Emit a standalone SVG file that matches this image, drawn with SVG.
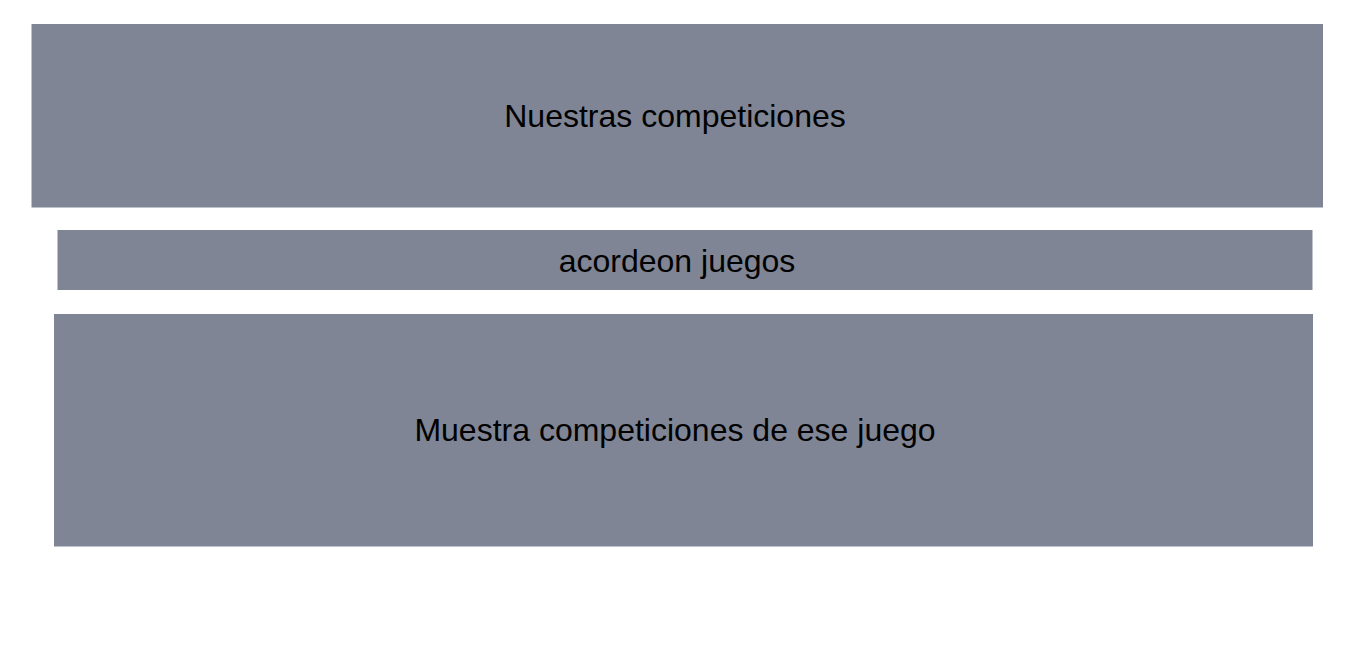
<svg xmlns="http://www.w3.org/2000/svg" width="1350" height="650" viewBox="0 0 1350 650">
<style>
.box{fill:#7f8595;stroke:none}
.lbl{font-family:"Liberation Sans",Arial,sans-serif;font-size:32px;fill:#000;text-anchor:middle;dominant-baseline:central}
</style>
<rect width="1350" height="650" fill="#fff"/>
<g id="node-header"><rect class="box" x="31.5" y="24" width="1291.5" height="183.5"/><text class="lbl" x="675" y="116">Nuestras competiciones</text></g>
<g id="node-accordion"><rect class="box" x="57.5" y="230" width="1255" height="60"/><text class="lbl" x="677" y="261">acordeon juegos</text></g>
<g id="node-list"><rect class="box" x="54" y="314" width="1259" height="232.5"/><text class="lbl" x="675" y="430">Muestra competiciones de ese juego</text></g>
<g id="connectors"/>
</svg>
